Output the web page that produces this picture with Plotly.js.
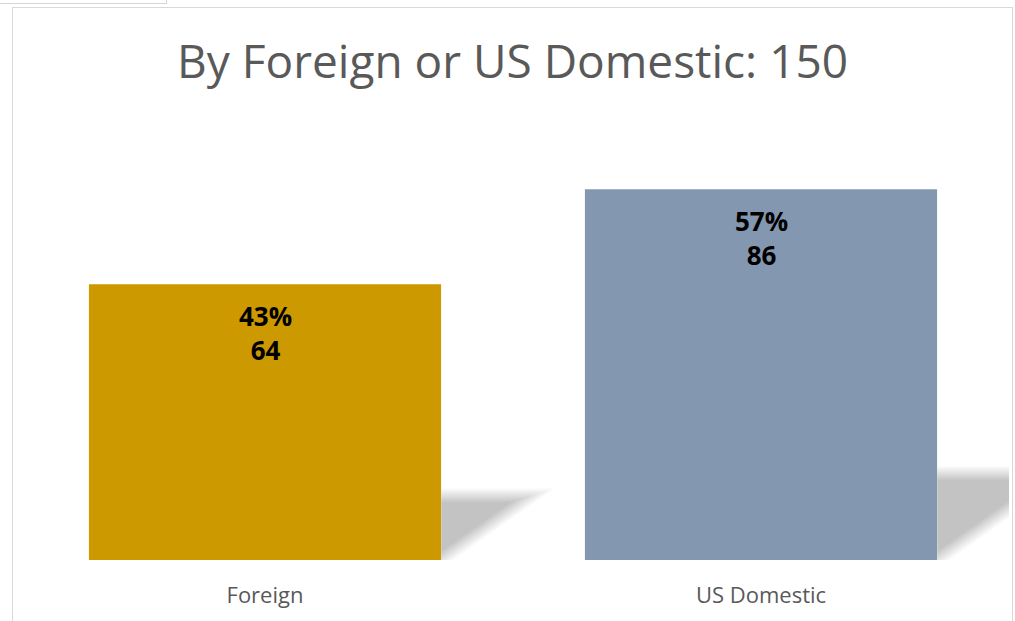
<!DOCTYPE html>
<html>
<head>
<meta charset="utf-8">
<script src="https://cdn.plot.ly/plotly-3.0.1.min.js"></script>
<style>
  html, body { margin: 0; padding: 0; background: #ffffff; }
  #wrap { position: relative; width: 1015px; height: 621px; overflow: hidden; }
  #chart { position: absolute; left: 0; top: 0; width: 1015px; height: 621px; }
  .frame { position: absolute; pointer-events: none; }
</style>
</head>
<body>
<div id="wrap">
  <div id="chart"></div>
  <div class="frame" style="left:0;top:0;width:166px;height:3px;border-bottom:1.5px solid #d6d6d6;border-right:1.5px solid #d6d6d6;"></div>
  <div class="frame" style="left:12px;top:7px;width:999px;height:620px;border-top:1.5px solid #d9d9d9;border-left:1.5px solid #d9d9d9;border-right:1.5px solid #d9d9d9;"></div>
</div>
<script>
const categories = ['Foreign', 'US Domestic'];
const counts = [64, 86];
const percents = ['43%', '57%'];
const total = 150;
const barColors = ['#CC9900', '#8497B0'];

const positions = categories.map((c, i) => i);
const barWidth = 0.71;
const shadowHeightFactor = 0.235;
const shadowLengthFactor = 0.0029;

// layout geometry (used to convert the soft-edge offsets from pixels to axis units)
const margin = { l: 17, r: 6, t: 129, b: 61 };
const W = 1015, H = 621;
const xRange = [-0.5, 1.5], yRange = [0, 100];
const pxPerX = (W - margin.l - margin.r) / (xRange[1] - xRange[0]);
const pxPerY = (H - margin.t - margin.b) / (yRange[1] - yRange[0]);

const trace = {
  type: 'bar',
  x: positions,
  y: counts,
  width: barWidth,
  marker: { color: barColors, line: { width: 0 } },
  hoverinfo: 'none',
  showlegend: false
};

// soft (blurred) perspective shadows built as stacked translucent layers
const shapes = [];
const layers = 15, spread = 7;
const alphaTotal = 0.2;
const alphaEach = 1 - Math.pow(1 - alphaTotal, 1 / layers);
counts.forEach((v, i) => {
  const xr = positions[i] + barWidth / 2;
  const ytPx = v * shadowHeightFactor * pxPerY;
  const lenPx = v * shadowLengthFactor * pxPerX;
  const s = ytPx / lenPx;
  const k = Math.sqrt(1 + s * s);
  for (let j = 0; j < layers; j++) {
    const d = -spread + (2 * spread) * j / (layers - 1);
    const y0Px = -k * d;
    const ytkPx = ytPx + d;
    const tipPx = (ytkPx - y0Px) / s;
    const y0 = y0Px / pxPerY, ytk = ytkPx / pxPerY, tipk = xr + tipPx / pxPerX;
    shapes.push({
      type: 'path',
      xref: 'x', yref: 'y',
      path: `M ${xr},${y0} L ${xr},${ytk} L ${tipk},${ytk} Z`,
      fillcolor: `rgba(0,0,0,${alphaEach.toFixed(4)})`,
      line: { width: 0 },
      layer: 'below'
    });
  }
});

const annotations = counts.map((v, i) => ({
  x: positions[i],
  y: v,
  xref: 'x', yref: 'y',
  text: `<b>${percents[i]}</b><br><b>${v}</b>`,
  showarrow: false,
  yanchor: 'top',
  yshift: -12,
  font: { family: 'Open Sans', size: 26, color: '#000000' }
}));

const layout = {
  width: W,
  height: H,
  margin: { l: margin.l, r: margin.r, t: margin.t, b: margin.b, pad: 0 },
  paper_bgcolor: '#ffffff',
  plot_bgcolor: '#ffffff',
  title: {
    text: 'By Foreign or US Domestic: ' + total,
    font: { family: 'Open Sans', size: 46, color: '#595959' },
    x: 0.505, xanchor: 'center',
    y: 0.9, yref: 'container', yanchor: 'middle'
  },
  xaxis: {
    type: 'linear',
    range: xRange,
    tickvals: positions,
    ticktext: categories,
    showgrid: false,
    zeroline: false,
    showline: false,
    ticks: '',
    ticklabelstandoff: 20,
    tickfont: { family: 'Open Sans', size: 22, color: '#595959' },
    fixedrange: true
  },
  yaxis: {
    range: yRange,
    showgrid: false,
    zeroline: false,
    showline: false,
    showticklabels: false,
    ticks: '',
    fixedrange: true
  },
  shapes: shapes,
  annotations: annotations,
  bargap: 0.29
};

Plotly.newPlot('chart', [trace], layout, { displayModeBar: false, staticPlot: true });
</script>
</body>
</html>
